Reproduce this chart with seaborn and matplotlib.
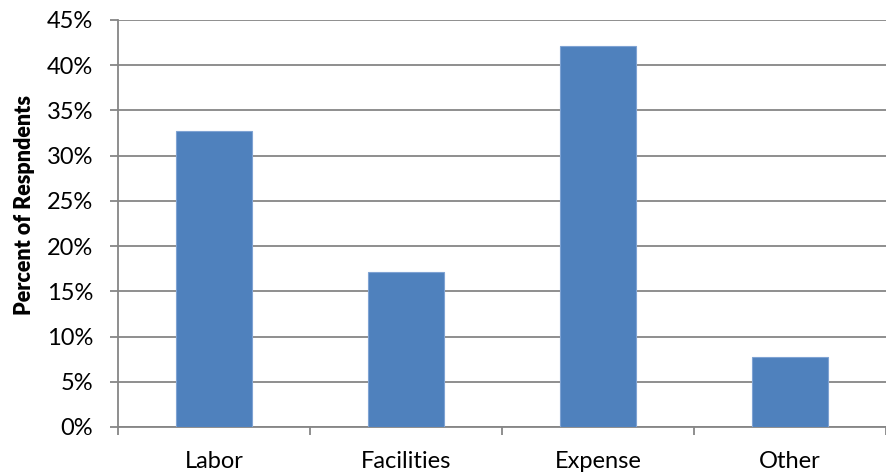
import matplotlib
matplotlib.use("Agg")
import matplotlib.pyplot as plt
import seaborn as sns
import pandas as pd
from matplotlib.ticker import FixedLocator, PercentFormatter

categories = ["Labor", "Facilities", "Expense", "Other"]
percents = [32.7, 17.1, 42.1, 7.7]
y_ticks = [0, 5, 10, 15, 20, 25, 30, 35, 40, 45]

df = pd.DataFrame({"category": categories, "percent": percents})

sns.set_theme(style="white")
plt.rcParams["font.family"] = ["Lato", "DejaVu Sans"]

grid_col = "#868686"
fig = plt.figure(figsize=(8.86, 4.75), dpi=100)
ax = fig.add_axes([0.1332, 0.1011, 0.8668, 0.8569])

sns.barplot(data=df, x="category", y="percent", color="#4F81BD",
            saturation=1, width=0.4, edgecolor="#7FA3D3", linewidth=0.8,
            ax=ax, zorder=3)

ax.set_xlim(-0.5, 3.5)
ax.set_ylim(0, 45)
ax.yaxis.set_major_locator(FixedLocator(y_ticks))
ax.yaxis.set_major_formatter(PercentFormatter(decimals=0))
ax.grid(axis="y", color=grid_col, linewidth=1.3, zorder=0)
ax.set_axisbelow(True)

for s in ["top", "right"]:
    ax.spines[s].set_visible(False)
for s in ["left", "bottom"]:
    ax.spines[s].set_color(grid_col)
    ax.spines[s].set_linewidth(1.3)

# category separators on the x axis
ax.xaxis.set_minor_locator(FixedLocator([-0.5, 0.5, 1.5, 2.5, 3.5]))
ax.tick_params(axis="x", which="major", length=0, pad=17, labelsize=17,
               labelcolor="black")
ax.tick_params(axis="x", which="minor", bottom=True, length=6, width=1.3,
               color=grid_col, direction="out")
ax.tick_params(axis="y", which="major", left=True, length=6, width=1.3,
               color=grid_col, direction="out", pad=12, labelsize=17,
               labelcolor="black")

ax.set_xlabel("")
ax.set_ylabel("Percent of Respndents", fontsize=15.5, fontweight="heavy",
              color="black")
ax.yaxis.set_label_coords(-0.108, 0.545)

fig.savefig("out.png", dpi=100)
